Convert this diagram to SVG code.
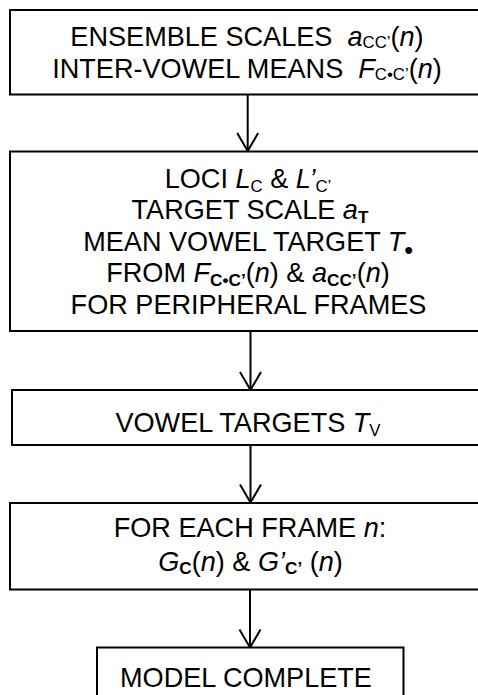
<svg xmlns="http://www.w3.org/2000/svg" width="478" height="695" viewBox="0 0 478 695">
  <style>
    .box { fill: #ffffff; stroke: #000000; stroke-width: 2; }
    .wire { fill: none; stroke: #000000; stroke-width: 2; }
    text { font-family: "Liberation Sans", Arial, sans-serif; font-size: 27.1px; fill: #000000; text-anchor: middle; white-space: pre; }
    .i { font-style: italic; }
    .sub { font-size: 16.8px; }
    .subb { font-size: 17.2px; font-weight: bold; }
  </style>
  <defs>
    <!-- open V arrowhead, tip at the end of the line -->
    <marker id="vee" viewBox="0 0 20 24" refX="19" refY="12" markerWidth="20" markerHeight="24" markerUnits="userSpaceOnUse" orient="auto">
      <path d="M1,1.5 L19,12 L1,22.5" fill="none" stroke="#000000" stroke-width="2"/>
    </marker>
  </defs>

  <rect width="478" height="695" fill="#ffffff"/>

  <g id="connectors">
    <path class="wire" d="M247.7,95 V151" marker-end="url(#vee)"/>
    <path class="wire" d="M250.5,332 V390" marker-end="url(#vee)"/>
    <path class="wire" d="M250.5,446 V502.5" marker-end="url(#vee)"/>
    <path class="wire" d="M250,590 V647.5" marker-end="url(#vee)"/>
  </g>

  <g id="ensemble">
    <path class="box" d="M480,10 H10 V94.5 H480"/>
    <text x="247" y="46">ENSEMBLE SCALES  <tspan class="i">a</tspan><tspan class="sub" dy="2">CC’</tspan><tspan dy="-2">(</tspan><tspan class="i">n</tspan>)</text>
    <text x="247" y="78">INTER-VOWEL MEANS  <tspan class="i">F</tspan><tspan class="sub" dy="2">C•C’</tspan><tspan dy="-2">(</tspan><tspan class="i">n</tspan>)</text>
  </g>

  <g id="loci">
    <path class="box" d="M480,151.5 H10 V331 H480"/>
    <text x="248" y="187.5">LOCI <tspan class="i">L</tspan><tspan class="sub" dy="4">C</tspan><tspan dy="-4"> &amp; </tspan><tspan class="i">L’</tspan><tspan class="sub" dy="4">C’</tspan></text>
    <text x="250" y="219">TARGET SCALE <tspan class="i">a</tspan><tspan class="subb" dy="4">T</tspan></text>
    <text x="248" y="250.5">MEAN VOWEL TARGET <tspan class="i">T</tspan><tspan font-size="24" font-weight="bold" dy="7">•</tspan></text>
    <text x="248" y="282">FROM <tspan class="i">F</tspan><tspan class="subb" dy="4">C•C’</tspan><tspan dy="-4">(</tspan><tspan class="i">n</tspan>) &amp; <tspan class="i">a</tspan><tspan class="subb" dy="4">CC’</tspan><tspan dy="-4">(</tspan><tspan class="i">n</tspan>)</text>
    <text x="248.5" y="313.5">FOR PERIPHERAL FRAMES</text>
  </g>

  <g id="vowel-targets">
    <path class="box" d="M480,390 H12 V445 H480"/>
    <text x="248" y="432">VOWEL TARGETS <tspan class="i">T</tspan><tspan class="sub" dy="4">V</tspan></text>
  </g>

  <g id="each-frame">
    <path class="box" d="M480,503 H10 V589.5 H480"/>
    <text x="250" y="537">FOR EACH FRAME <tspan class="i">n</tspan>:</text>
    <text x="250.5" y="571"><tspan class="i">G</tspan><tspan class="subb" dy="3">C</tspan><tspan dy="-3">(</tspan><tspan class="i">n</tspan>) &amp; <tspan class="i">G’</tspan><tspan class="subb" dy="3">C’</tspan><tspan dy="-3"> (</tspan><tspan class="i">n</tspan>)</text>
  </g>

  <g id="model-complete">
    <path class="box" d="M97,700 V647.5 H403.5 V700"/>
    <text x="246" y="686.5">MODEL COMPLETE</text>
  </g>
</svg>
